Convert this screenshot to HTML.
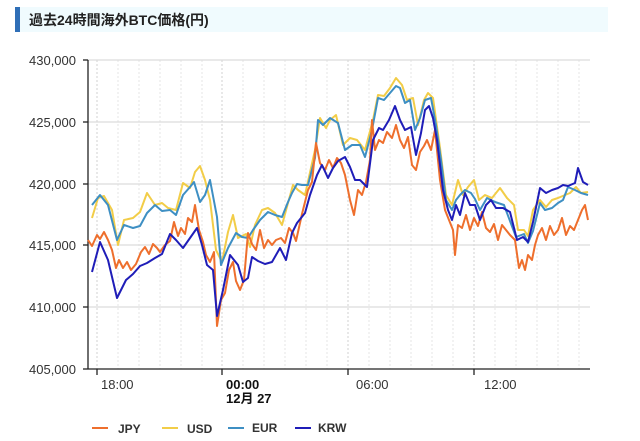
<!DOCTYPE html>
<html><head><meta charset="utf-8"><style>
body{margin:0;background:#fff;width:640px;height:441px;overflow:hidden}
svg{display:block;font-family:"Liberation Sans","Noto Sans CJK JP",sans-serif}
</style></head><body>
<svg width="640" height="441" viewBox="0 0 640 441">
<rect x="15" y="7" width="593" height="25" fill="#f0fbfe"/>
<rect x="15" y="7" width="5" height="25" fill="#2f6fb7"/>
<text x="29" y="25" font-size="14" font-weight="bold" fill="#222">過去24時間海外BTC価格(円)</text>
<g stroke="#e6e6e6" stroke-width="1" stroke-dasharray="2,2">
<line x1="118" y1="60" x2="118" y2="369"/><line x1="139" y1="60" x2="139" y2="369"/><line x1="160" y1="60" x2="160" y2="369"/><line x1="181" y1="60" x2="181" y2="369"/><line x1="202" y1="60" x2="202" y2="369"/>
<line x1="243" y1="60" x2="243" y2="369"/><line x1="264" y1="60" x2="264" y2="369"/><line x1="285" y1="60" x2="285" y2="369"/><line x1="306" y1="60" x2="306" y2="369"/><line x1="327" y1="60" x2="327" y2="369"/>
<line x1="369" y1="60" x2="369" y2="369"/><line x1="390" y1="60" x2="390" y2="369"/><line x1="411" y1="60" x2="411" y2="369"/><line x1="432" y1="60" x2="432" y2="369"/><line x1="453" y1="60" x2="453" y2="369"/>
<line x1="495" y1="60" x2="495" y2="369"/><line x1="516" y1="60" x2="516" y2="369"/><line x1="537" y1="60" x2="537" y2="369"/><line x1="558" y1="60" x2="558" y2="369"/><line x1="579" y1="60" x2="579" y2="369"/>
</g>
<g stroke="#d0d0d0" stroke-width="1" stroke-dasharray="2,2">
<line x1="97" y1="60" x2="97" y2="369"/><line x1="222" y1="60" x2="222" y2="369"/><line x1="348" y1="60" x2="348" y2="369"/><line x1="474" y1="60" x2="474" y2="369"/>
</g>
<g stroke="#dcdcdc" stroke-width="1.2">
<line x1="88" y1="60" x2="590" y2="60"/><line x1="88" y1="122" x2="590" y2="122"/><line x1="88" y1="184" x2="590" y2="184"/><line x1="88" y1="245" x2="590" y2="245"/><line x1="88" y1="307" x2="590" y2="307"/>
</g>
<g stroke="#222" stroke-width="1.3">
<line x1="88" y1="60" x2="88" y2="369"/><line x1="88" y1="369" x2="590" y2="369"/>
<line x1="83" y1="60" x2="88" y2="60"/><line x1="83" y1="122" x2="88" y2="122"/><line x1="83" y1="184" x2="88" y2="184"/><line x1="83" y1="245" x2="88" y2="245"/><line x1="83" y1="307" x2="88" y2="307"/><line x1="83" y1="369" x2="88" y2="369"/>
<line x1="97" y1="369" x2="97" y2="375"/><line x1="222" y1="369" x2="222" y2="375"/><line x1="348" y1="369" x2="348" y2="375"/><line x1="474" y1="369" x2="474" y2="375"/>
</g>
<g font-size="13" fill="#333" text-anchor="end">
<text x="76" y="65">430,000</text><text x="76" y="127">425,000</text><text x="76" y="189">420,000</text><text x="76" y="250">415,000</text><text x="76" y="312">410,000</text><text x="76" y="374">405,000</text>
</g>
<g font-size="13" fill="#333">
<text x="101" y="389">18:00</text><text x="356" y="389">06:00</text><text x="484" y="389">12:00</text>
<text x="226" y="389" font-weight="bold" fill="#111">00:00</text><text x="226" y="403" font-weight="bold" fill="#111">12月 27</text>
</g>
<g fill="none" stroke-width="2" stroke-linejoin="round">
<polyline stroke="#f2cd48" points="92,218 98,198 104,196 112,210 118,245 124,220 133,218 140,212 147,193 155,205 162,203 168,208 176,210 183,183 190,188 195,172 200,166 205,180 210,200 216,250 222,262 228,232 233,215 238,238 246,234 250,247 255,225 262,210 268,208 275,213 282,225 288,203 293,185 298,190 305,195 315,150 320,118 326,128 330,120 336,115 343,145 350,138 357,140 365,150 373,120 378,95 384,96 390,88 396,78 402,85 407,100 413,98 418,125 424,100 428,93 433,98 440,148 446,195 452,205 458,180 463,195 468,187 474,180 479,200 485,195 492,198 500,188 507,198 514,205 518,230 524,230 528,236 533,210 540,200 546,207 552,200 558,198 565,195 570,193 576,187 581,193 588,192"/>
<polyline stroke="#3e8fc3" points="92,205 100,195 108,205 117,240 124,225 133,228 140,226 147,213 155,205 162,211 170,210 176,215 183,195 190,187 194,182 200,202 205,195 210,180 217,217 221,265 228,248 236,233 242,237 248,238 253,230 260,220 268,212 275,215 282,217 288,202 292,193 297,184 302,185 308,185 315,158 318,120 323,125 330,118 338,123 345,150 352,145 360,145 365,157 372,130 378,98 384,100 390,93 396,86 400,88 405,103 410,100 415,130 420,118 425,100 431,98 436,125 441,160 446,200 452,210 456,200 460,195 465,190 471,193 475,199 480,210 487,198 495,202 504,205 516,237 524,234 528,243 533,231 540,203 545,210 552,208 558,203 563,200 568,187 575,190 581,193 588,195"/>
<polyline stroke="#ee6f2d" points="88,240 92,246 97,235 100,239 104,232 108,240 112,250 116,268 119,260 123,268 127,262 131,270 136,264 141,252 145,247 149,254 153,244 157,248 160,252 165,245 170,241 174,222 178,236 181,228 185,234 188,218 192,222 195,205 199,230 203,242 206,255 210,262 214,252 217,326 221,300 225,293 229,270 233,262 236,281 240,290 244,280 248,233 252,244 256,250 260,230 264,248 268,240 272,245 276,240 281,238 285,243 289,228 293,233 296,241 302,214 308,190 312,182 316,143 320,163 325,170 329,160 333,168 337,158 341,163 345,175 350,200 354,215 358,190 362,195 366,182 370,160 372,120 375,150 379,140 383,143 387,132 392,138 396,125 400,140 404,148 408,137 412,165 416,170 420,152 424,146 427,140 431,150 435,130 440,180 445,210 449,220 453,230 455,255 458,225 462,228 466,215 470,230 474,218 478,226 482,212 486,228 490,232 494,224 498,240 502,225 506,230 510,235 515,240 519,268 522,260 525,270 528,255 532,260 535,245 538,235 542,228 546,240 550,226 554,235 558,230 562,218 566,235 570,226 574,230 578,220 582,210 585,205 588,220"/>
<polyline stroke="#1f1db8" points="92,272 100,242 108,260 117,298 126,280 133,274 140,266 147,263 155,258 162,254 170,234 176,240 183,248 190,238 197,228 202,245 207,265 213,270 217,316 223,290 230,255 238,265 243,282 248,278 252,257 258,261 265,264 272,262 280,248 286,260 292,233 297,223 305,213 310,195 317,175 322,165 328,178 333,168 338,161 345,157 350,167 355,180 360,180 367,187 373,140 379,128 383,130 389,120 395,106 400,120 405,130 411,127 416,155 421,133 425,110 429,106 433,118 437,140 443,190 448,210 452,220 456,205 460,215 465,193 470,205 475,205 480,220 486,205 491,200 496,208 503,208 510,212 517,240 523,237 528,242 533,222 540,188 546,193 552,190 558,188 563,185 568,186 575,183 578,168 583,182 588,185"/>
</g>
<g stroke-width="2">
<line x1="92" y1="428" x2="108" y2="428" stroke="#ee6f2d"/><line x1="162" y1="428" x2="178" y2="428" stroke="#f2cd48"/><line x1="228" y1="428" x2="244" y2="428" stroke="#3e8fc3"/><line x1="295" y1="428" x2="311" y2="428" stroke="#1f1db8"/>
</g>
<g font-size="12" font-weight="bold" fill="#333">
<text x="118" y="433">JPY</text><text x="187" y="433">USD</text><text x="252" y="432">EUR</text><text x="318" y="432">KRW</text>
</g>
</svg>
</body></html>
